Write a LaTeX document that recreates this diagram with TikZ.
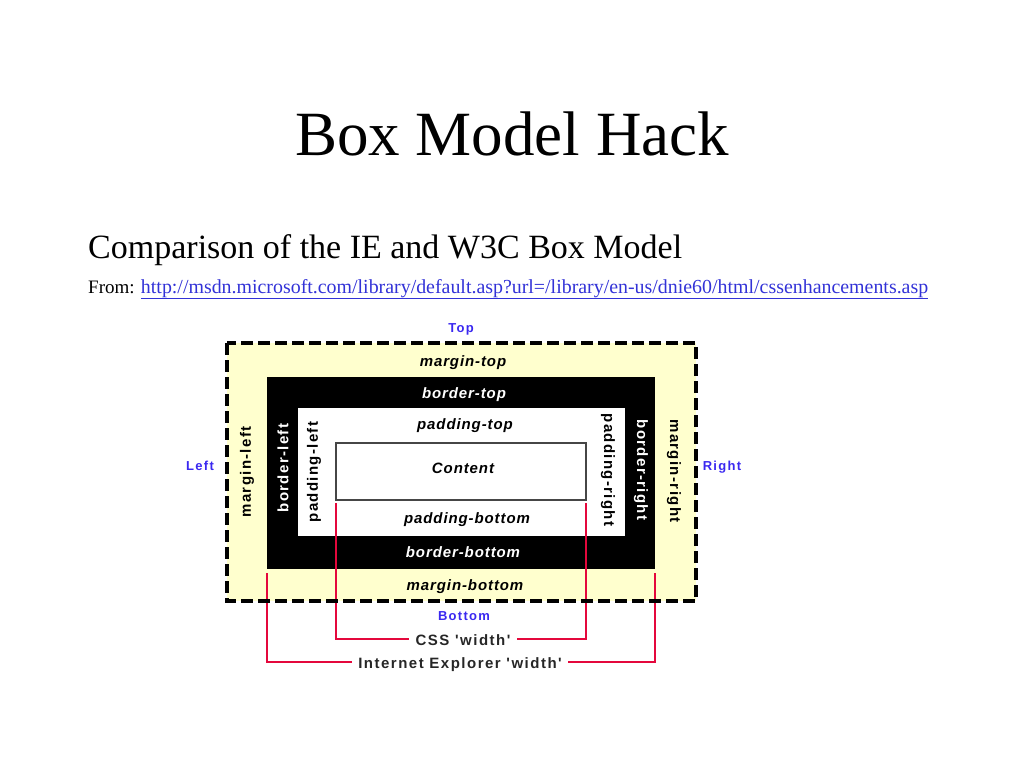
\documentclass[tikz,border=0pt]{standalone}
\usepackage{fontspec}
\setmainfont{Liberation Serif}
\newfontfamily\hsans[LetterSpace=6]{Liberation Sans}
\newfontfamily\vsans[LetterSpace=9]{Liberation Sans}
\newfontfamily\bsans[LetterSpace=10]{Liberation Sans}
\definecolor{marginyellow}{RGB}{255,255,206}
\definecolor{labelblue}{RGB}{58,40,240}
\definecolor{linkblue}{RGB}{50,50,215}
\definecolor{widthred}{RGB}{228,8,60}
\definecolor{contentgray}{RGB}{70,70,70}
\tikzset{
  hlabel/.style={anchor=base, inner sep=0pt, font=\hsans\fontsize{15}{18}\selectfont\bfseries\itshape},
  hlabelw/.style={hlabel, text=white},
  vlabel/.style={anchor=center, inner sep=0pt, font=\vsans\fontsize{15}{18}\selectfont\bfseries},
  vlabelw/.style={vlabel, text=white},
  side/.style={anchor=base, inner sep=0pt, text=labelblue, font=\bsans\fontsize{13}{15}\selectfont\bfseries},
  widthlabel/.style={anchor=base, inner xsep=6pt, inner ysep=0pt, text=black!85, font=\bsans\fontsize{15}{18}\selectfont\bfseries},
  redline/.style={draw=widthred, line width=2pt},
}
\begin{document}
\begin{tikzpicture}[x=1pt,y=-1pt]
\useasboundingbox (0,0) rectangle (1024,768);
% headings
\node[anchor=base, inner sep=0pt, font=\fontsize{63}{70}\selectfont] (title) at (512,155) {Box Model Hack};
\node[anchor=base west, inner sep=0pt, font=\fontsize{34}{38}\selectfont] (sub) at (88,258) {Comparison of the IE and W3C Box Model};
\node[anchor=base west, inner sep=0pt, font=\fontsize{19}{22}\selectfont] (from) at (88,293) {From: {\fontsize{19.9}{22}\selectfont\textcolor{linkblue}{\underline{http://msdn.microsoft.com/library/default.asp?url=/library/en-us/dnie60/html/cssenhancements.asp}}}};
% boxes
\fill[marginyellow] (227,343) rectangle (696,601);
\fill[black] (267,377) rectangle (655,569);
\fill[white] (298,408) rectangle (625,536);
\draw[contentgray, line width=1.2pt, fill=white] (336,443) rectangle (586,500);
% width markers
\coordinate (cssL) at (336,503);
\coordinate (cssR) at (586,503);
\coordinate (ieL) at (267,573);
\coordinate (ieR) at (655,573);
\node[widthlabel] (css) at (463,645) {CSS 'width'};
\node[widthlabel] (ie) at (460,668) {Internet Explorer 'width'};
\draw[redline] (cssL) |- ([yshift=6.5pt]css.base west);
\draw[redline] (cssR) |- ([yshift=6.5pt]css.base east);
\draw[redline] (ieL) |- ([yshift=6pt]ie.base west);
\draw[redline] (ieR) |- ([yshift=6pt]ie.base east);
% dashed margin edge
\draw[black, line width=4pt, dash pattern=on 12pt off 5pt] (227,343) rectangle (696,601);
% horizontal labels
\node[hlabel] (mt) at (463,366) {margin-top};
\node[hlabelw] (bt) at (464,398) {border-top};
\node[hlabel] (pt) at (465,429) {padding-top};
\node[hlabel] (ct) at (463,473) {Content};
\node[hlabel] (pb) at (467,523) {padding-bottom};
\node[hlabelw] (bb) at (463,557) {border-bottom};
\node[hlabel] (mb) at (465,590) {margin-bottom};
% vertical labels
\node[vlabel, rotate=90] (ml) at (247,472) {margin-left};
\node[vlabelw, rotate=90] (bl) at (283,468) {border-left};
\node[vlabel, rotate=90] (pl) at (314,472) {padding-left};
\node[vlabel, rotate=-90] (pr) at (608,470) {padding-right};
\node[vlabelw, rotate=-90] (br) at (641,470) {border-right};
\node[vlabel, rotate=-90] (mr) at (674,471) {margin-right};
% side labels
\node[side] (top) at (461,332) {Top};
\node[side] (left) at (200,470) {Left};
\node[side] (right) at (722,470) {Right};
\node[side] (bottom) at (464,620) {Bottom};
\end{tikzpicture}
\end{document}
